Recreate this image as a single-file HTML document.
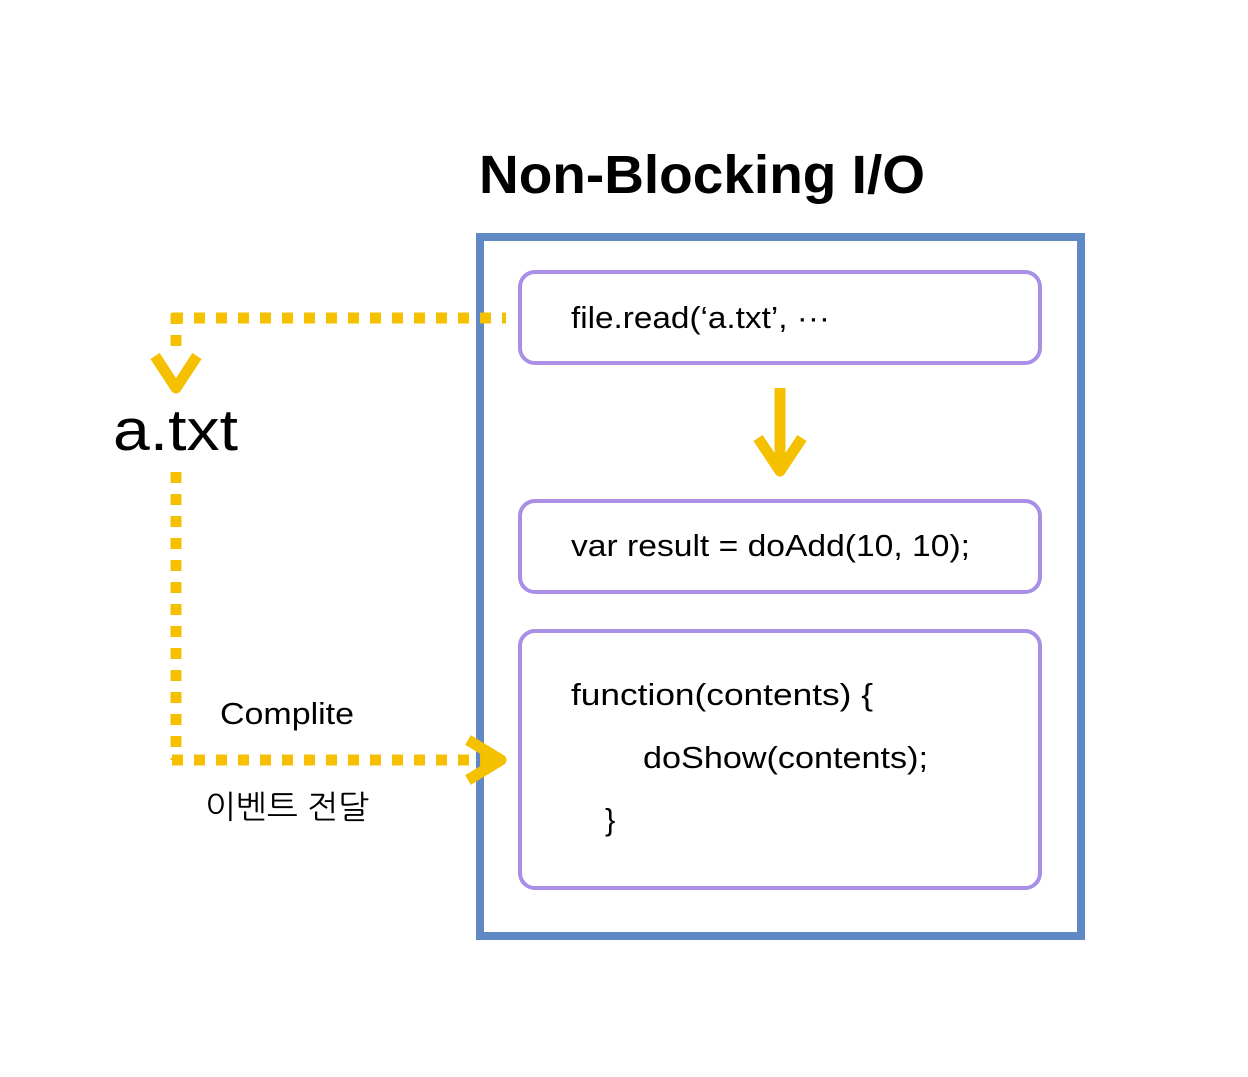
<!DOCTYPE html>
<html><head><meta charset="utf-8"><style>
html,body{margin:0;padding:0;background:#fff;width:1248px;height:1077px;overflow:hidden}
text{font-family:"Liberation Sans","NanumGothic","Noto Sans CJK KR",sans-serif;fill:#000}
</style></head><body>
<svg width="1248" height="1077" viewBox="0 0 1248 1077" xmlns="http://www.w3.org/2000/svg">
<text x="479" y="193" font-size="54" font-weight="bold" textLength="446" lengthAdjust="spacingAndGlyphs">Non-Blocking I/O</text>
<rect x="480" y="237" width="601" height="699" fill="none" stroke="#6088c4" stroke-width="8"/>
<g fill="none" stroke="#a98fe6" stroke-width="4">
<rect x="520" y="272" width="520" height="91" rx="15"/>
<rect x="520" y="501" width="520" height="91" rx="15"/>
<rect x="520" y="631" width="520" height="257" rx="15"/>
</g>
<text x="571" y="328" font-size="31" textLength="259" lengthAdjust="spacingAndGlyphs">file.read(‘a.txt’, ···</text>
<text x="571" y="556" font-size="31" textLength="399" lengthAdjust="spacingAndGlyphs">var result = doAdd(10, 10);</text>
<text x="571" y="705" font-size="31" textLength="302" lengthAdjust="spacingAndGlyphs">function(contents) {</text>
<text x="643" y="768" font-size="31" textLength="285" lengthAdjust="spacingAndGlyphs">doShow(contents);</text>
<text x="605" y="830" font-size="31">}</text>
<text x="113" y="450" font-size="58" textLength="125" lengthAdjust="spacingAndGlyphs">a.txt</text>
<text x="220" y="724" font-size="31" textLength="134" lengthAdjust="spacingAndGlyphs">Complite</text>
<text x="205" y="818" font-size="32" textLength="164" lengthAdjust="spacingAndGlyphs">이벤트 전달</text>
<g stroke="#f5c000" stroke-width="11" fill="none">
<line x1="172" y1="318" x2="506" y2="318" stroke-dasharray="11 11"/>
<line x1="176" y1="313" x2="176" y2="348" stroke-dasharray="11 11"/>
<line x1="176" y1="472" x2="176" y2="760" stroke-dasharray="11 11"/>
<line x1="172" y1="760" x2="490" y2="760" stroke-dasharray="11 11"/>
</g>
<g stroke="#f5c000" stroke-width="11" fill="none" stroke-linejoin="round" stroke-linecap="butt">
<polyline points="155,356 176,388 197,356"/>
<polyline points="468,740 501,760 468,780"/>
<line x1="780" y1="388" x2="780" y2="468"/>
<polyline points="758,438 780,471 802,438"/>
</g>
</svg>
</body></html>
